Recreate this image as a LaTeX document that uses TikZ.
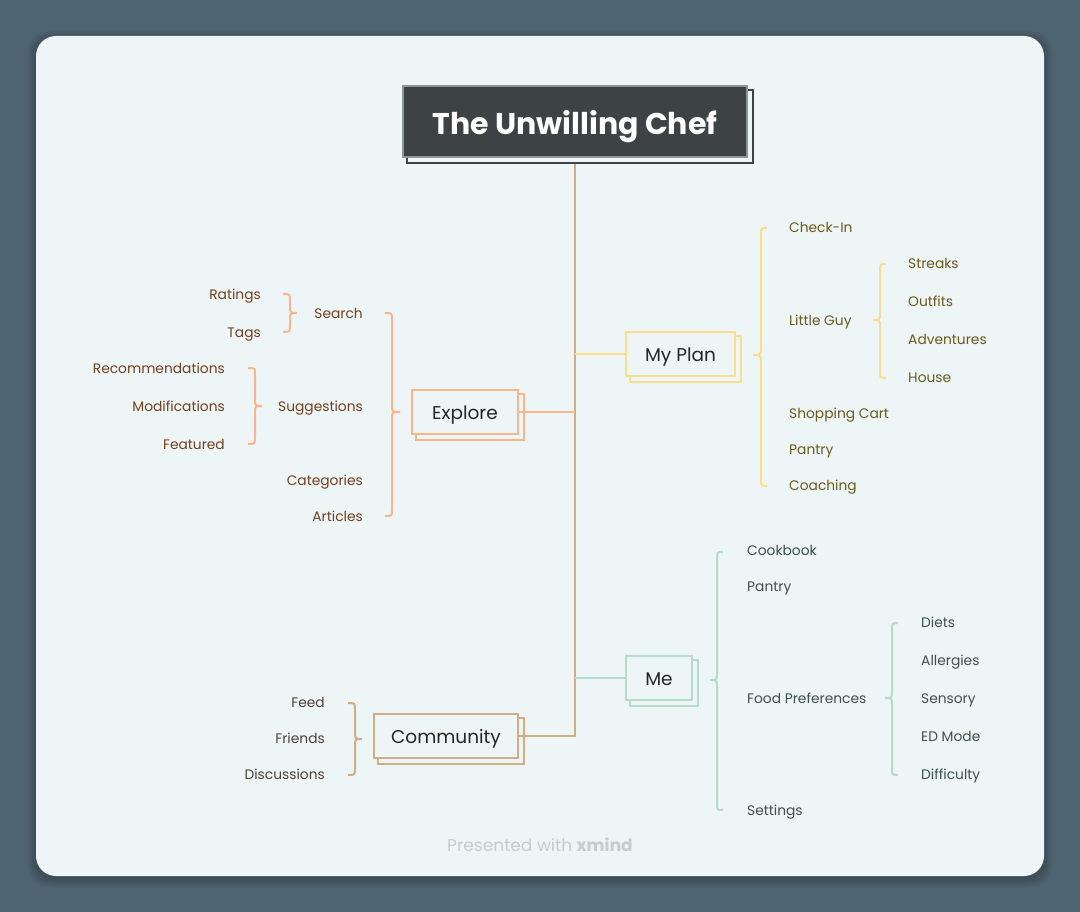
\documentclass[tikz,border=0pt]{standalone}
\usepackage{fontspec}
\setmainfont{Poppins}
\definecolor{bgc}{HTML}{4E6470}
\definecolor{card}{HTML}{EDF5F6}
\definecolor{titlefill}{HTML}{3D4244}
\definecolor{titleborder}{HTML}{8C979B}
\definecolor{tanc}{HTML}{CFAE85}
\definecolor{yelc}{HTML}{F8DE8E}
\definecolor{orac}{HTML}{F9B68E}
\definecolor{grnc}{HTML}{B5DCCA}
\definecolor{oratext}{HTML}{74401F}
\definecolor{yeltext}{HTML}{6B5A1C}
\definecolor{grntext}{HTML}{3F5148}
\definecolor{tantext}{HTML}{4E4237}
\definecolor{foot}{HTML}{C3CCCF}
\pgfdeclarelayer{back}
\pgfdeclarelayer{bg}
\pgfsetlayers{back,bg,main}
\tikzset{
  lbl/.style={font=\fontsize{13.8}{16}\selectfont, inner sep=0pt, yshift=-3pt},
  lblL/.style={lbl, anchor=mid west},
  lblR/.style={lbl, anchor=mid east},
  topic/.style={font=\fontsize{18.5}{21}\selectfont, text=black!85, line width=2pt, fill=card,
    minimum height=44pt, inner sep=0pt, text height=14pt, text depth=0pt},
  conn/.style={line width=2pt},
}
\newcommand\topicnode[6]{%
  \node[topic, draw=#5, minimum width=#4 pt] (#1) at (#2,#3) {#6};
  \begin{pgfonlayer}{bg}
    \draw[#5, line width=2pt, fill=card] ([xshift=5pt,yshift=-5pt]#1.south west) rectangle ([xshift=5pt,yshift=-5pt]#1.north east);
  \end{pgfonlayer}}
\newcommand\mybrace[7]{%
  \draw[#1, line width=2pt] (#2,#5) .. controls (#3,#5) .. (#3,#5+7) -- (#3,#6-7)
    .. controls (#3,#6) .. (#4,#6) .. controls (#3,#6) .. (#3,#6+7) -- (#3,#7-7)
    .. controls (#3,#7) .. (#2,#7);}
\begin{document}
\begin{tikzpicture}[x=1pt,y=-1pt]
\useasboundingbox (0,0) rectangle (1080,912);
\begin{pgfonlayer}{back}
\fill[bgc] (0,0) rectangle (1080,912);
\foreach \i in {1,...,8}{
  \fill[black, opacity=0.025, rounded corners=20pt] (36-\i,36-\i+3) rectangle (1044+\i,876+\i+3);
}
\fill[card, rounded corners=20pt] (36,36) rectangle (1044,876);
\end{pgfonlayer}

% title
\node[fill=titlefill, draw=titleborder, line width=1.5pt, minimum width=344pt, minimum height=71pt,
  inner sep=0pt, text=white, text height=27pt, text depth=0pt,
  font=\fontsize{30}{33}\selectfont\bfseries] (title) at (575,121.5) {The Unwilling Chef};
\begin{pgfonlayer}{bg}
\draw[titlefill, line width=2pt] ([xshift=5pt,yshift=-5pt]title.south west) rectangle ([xshift=5pt,yshift=-5pt]title.north east);
\end{pgfonlayer}

% main topics
\topicnode{mp}{680.5}{354}{109}{yelc}{My Plan}
\topicnode{ex}{465}{412}{106}{orac}{Explore}
\topicnode{me}{659}{678}{66}{grnc}{Me}
\topicnode{co}{446}{736}{144}{tanc}{Community}

\coordinate (trunkend) at (575,736);
\draw[conn, tanc] ([yshift=-6pt]title.south) -- (trunkend) -- (co.east);
\draw[conn, yelc] (mp.west) -- (title.south |- mp.west);
\draw[conn, orac] (ex.east) -- (title.south |- ex.east);
\draw[conn, grnc] (me.west) -- (title.south |- me.west);

% Explore subtree
\mybrace{orac}{385}{392}{400}{313}{412}{516}
\mybrace{orac}{283}{290}{297}{294}{313}{332}
\mybrace{orac}{248}{255}{262}{368}{406}{444}
\begin{scope}[text=oratext]
\node[lblR] (search) at (363,313) {Search};
\node[lblR] (sugg) at (363,406) {Suggestions};
\node[lblR] (cat) at (363,480) {Categories};
\node[lblR] (art) at (363,516) {Articles};
\node[lblR] (rat) at (261,294) {Ratings};
\node[lblR] (tags) at (261,332) {Tags};
\node[lblR] (rec) at (225,368) {Recommendations};
\node[lblR] (mod) at (225,406) {Modifications};
\node[lblR] (feat) at (225,444) {Featured};
\end{scope}

% My Plan subtree
\mybrace{yelc}{767}{761}{753}{228}{355}{486}
\mybrace{yelc}{886}{880}{873}{264}{320}{378}
\begin{scope}[text=yeltext]
\node[lblL] (chk) at (789,227) {Check-In};
\node[lblL] (lg) at (789,320) {Little Guy};
\node[lblL] (shop) at (789,413) {Shopping Cart};
\node[lblL] (pan1) at (789,449) {Pantry};
\node[lblL] (coach) at (789,485) {Coaching};
\node[lblL] (str) at (908,263) {Streaks};
\node[lblL] (out) at (908,301) {Outfits};
\node[lblL] (adv) at (908,339) {Adventures};
\node[lblL] (house) at (908,377) {House};
\end{scope}

% Me subtree
\mybrace{grnc}{723}{717}{710}{552}{680}{810}
\mybrace{grnc}{898}{892}{885}{623}{698}{775}
\begin{scope}[text=grntext]
\node[lblL] (cook) at (747,550) {Cookbook};
\node[lblL] (pan2) at (747,586) {Pantry};
\node[lblL] (food) at (747,698) {Food Preferences};
\node[lblL] (set) at (747,810) {Settings};
\node[lblL] (diet) at (921,622) {Diets};
\node[lblL] (all) at (921,660) {Allergies};
\node[lblL] (sens) at (921,698) {Sensory};
\node[lblL] (ed) at (921,736) {ED Mode};
\node[lblL] (diff) at (921,774) {Difficulty};
\end{scope}

% Community subtree
\mybrace{tanc}{348}{355}{362}{703}{739}{775}
\begin{scope}[text=tantext]
\node[lblR] (feed) at (325,702) {Feed};
\node[lblR] (fr) at (325,738) {Friends};
\node[lblR] (disc) at (325,774) {Discussions};
\end{scope}

\node[font=\fontsize{17}{19}\selectfont, text=foot, inner sep=0pt] (footer) at (540,845) {Presented with \textbf{xmind}};
\end{tikzpicture}
\end{document}
